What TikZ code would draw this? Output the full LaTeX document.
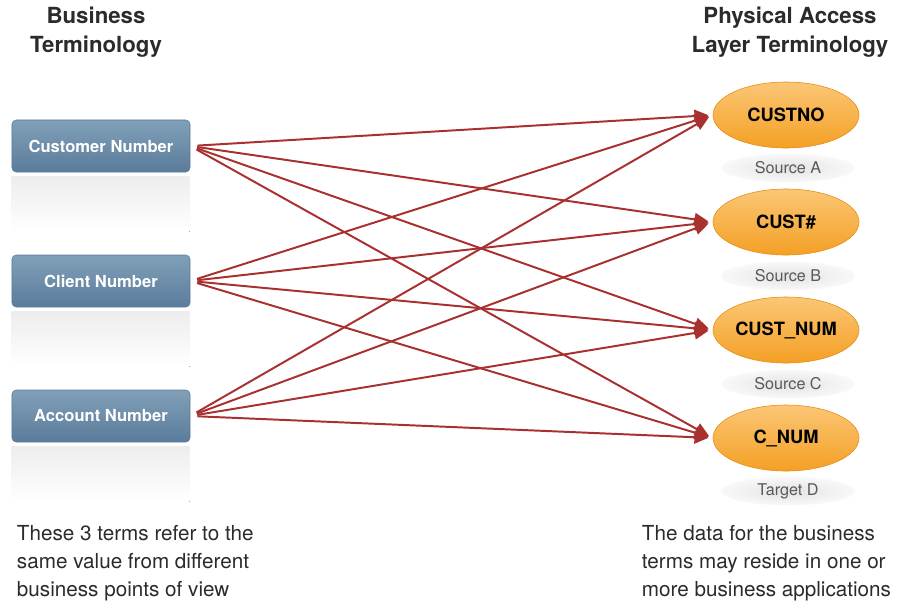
\documentclass[tikz,border=0pt]{standalone}
\usepackage{fontspec}
\setmainfont{TeX Gyre Heros}
\usetikzlibrary{arrows.meta,shapes.geometric}
\definecolor{Slate}{HTML}{6A8EAC}
\definecolor{SlateDark}{HTML}{5A7C9B}
\definecolor{SlateLight}{HTML}{819FB8}
\definecolor{Amber}{HTML}{F4A024}
\definecolor{AmberLight}{HTML}{FBC676}
\definecolor{AmberDark}{HTML}{E58C12}
\definecolor{Wine}{HTML}{A8302F}
\definecolor{Ink}{HTML}{2B2B2B}

\begin{document}
\begin{tikzpicture}[x=0.025cm,y=-0.025cm,>={Triangle[length=10pt,width=9pt]},
    term/.style={draw=SlateDark,rounded corners=3pt,top color=SlateLight,bottom color=SlateDark,
      text=white,font=\bfseries\fontsize{11.8}{14}\selectfont,minimum width=4.45cm,minimum height=1.3cm},
    field/.style={ellipse,inner sep=0pt,draw=AmberDark,top color=AmberLight,bottom color=Amber,
      font=\bfseries\fontsize{13}{15}\selectfont,text=black,minimum width=3.65cm,minimum height=1.65cm},
    origin/.style={ellipse,inner sep=0pt,inner color=gray!22,outer color=gray!5,text=gray!70!black,
      font=\fontsize{11.5}{14}\selectfont,minimum width=3.35cm,minimum height=0.72cm},
    head/.style={align=center,text=Ink,font=\bfseries\fontsize{15.8}{20.5}\selectfont},
    note/.style={align=left,anchor=west,text=Ink,font=\fontsize{14.7}{19.8}\selectfont},
    link/.style={->,Wine,line width=1.4pt,shorten <=5pt,shorten >=3pt}]
  \useasboundingbox (0,0) rectangle (905,607);

  % headings
  \node[head] (bizhead) at (96,32) {Business\\Terminology};
  \node[head] (layhead) at (790,32) {Physical Access\\Layer Terminology};

  % business terms with their reflections
  \node[term] (cust) at (101,146) {Customer Number};
  \node[term] (client) at (101,281) {Client Number};
  \node[term] (acct) at (101,416) {Account Number};
  \foreach \s in {cust,client,acct}
    \fill[top color=gray!14,bottom color=white] ([yshift=-3pt]\s.south west) rectangle ++(178,55);

  % physical fields
  \node[field] (custno) at (786,115) {CUSTNO};
  \node[origin] (srcA) at (788,168) {Source A};
  \node[field] (custhash) at (786,222) {CUST\#};
  \node[origin] (srcB) at (788,276) {Source B};
  \node[field] (custnum) at (786,330) {CUST\_NUM};
  \node[origin] (srcC) at (788,384) {Source C};
  \node[field] (cnum) at (786,438) {C\_NUM};
  \node[origin] (tgtD) at (788,491) {Target D};

  % every term maps to every field
  \foreach \s in {cust,client,acct}
    \foreach \t in {custno,custhash,custnum,cnum}
      \draw[link] (\s.east) -- (\t.west);

  % notes
  \node[note] (biznote) at (12,563) {These 3 terms refer to the\\same value from different\\business points of view};
  \node[note] (laynote) at (637,563) {The data for the business\\terms may reside in one or\\more business applications};
\end{tikzpicture}
\end{document}
